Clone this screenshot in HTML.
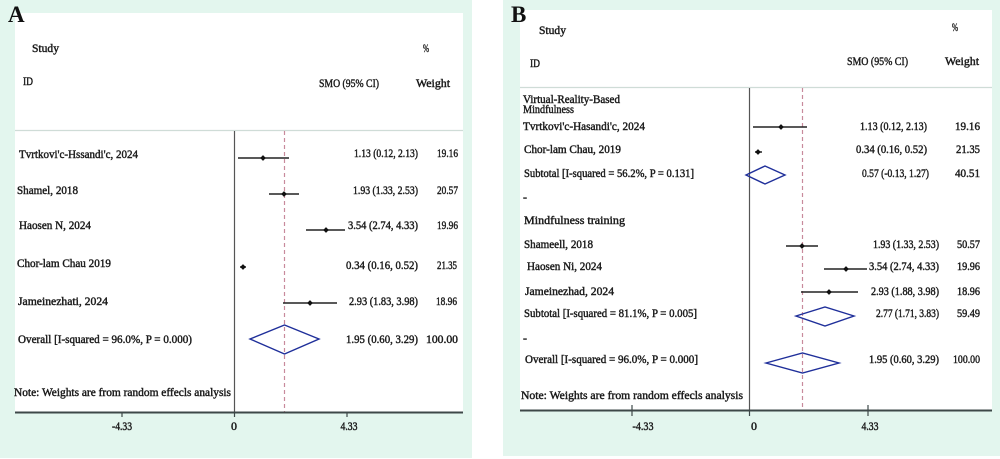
<!DOCTYPE html>
<html>
<head>
<meta charset="utf-8">
<style>
html,body{margin:0;padding:0;background:#fff;}
svg{display:block;}
text{font-family:"Liberation Serif",serif;fill:#1a1a1a;font-size:12px;stroke:#1a1a1a;stroke-width:0.45px;}
.v{text-anchor:end;}
.big{font-size:23px;font-weight:bold;fill:#111;stroke:none;}
</style>
</head>
<body>
<svg width="1000" height="459" viewBox="0 0 1000 459" xmlns="http://www.w3.org/2000/svg">
  <rect x="0" y="0" width="1000" height="459" fill="#ffffff"/>
  <rect x="0" y="0" width="472" height="458" fill="#e3f6ee"/>
  <rect x="503" y="0" width="497" height="456" fill="#e3f6ee"/>
  <rect x="15" y="13" width="448" height="399" fill="#ffffff"/>
  <rect x="520" y="10" width="472" height="400" fill="#ffffff"/>

  <!-- ================= PANEL A ================= -->
  <text class="big" x="8" y="22">A</text>
  <text x="32" y="52" textLength="27" lengthAdjust="spacingAndGlyphs">Study</text>
  <text x="423" y="52" textLength="6" lengthAdjust="spacingAndGlyphs">%</text>
  <text x="23" y="85" textLength="10" lengthAdjust="spacingAndGlyphs">ID</text>
  <text x="319" y="87" textLength="60" lengthAdjust="spacingAndGlyphs">SMO (95% CI)</text>
  <text x="416" y="87" textLength="34" lengthAdjust="spacingAndGlyphs">Weight</text>

  <line x1="15" y1="130.5" x2="463" y2="130.5" stroke="#cfdcd7" stroke-width="1.2"/>
  <line x1="234.5" y1="131" x2="234.5" y2="412" stroke="#555" stroke-width="1.2"/>
  <line x1="284.5" y1="131" x2="284.5" y2="412" stroke="#c88a9c" stroke-width="1.2" stroke-dasharray="4,3"/>

  <text x="19" y="158" textLength="119" lengthAdjust="spacingAndGlyphs">Tvrtkovi'c-Hssandi'c, 2024</text>
  <line x1="238" y1="158" x2="289" y2="158" stroke="#222" stroke-width="1.5"/>
  <rect x="261" y="156" width="4" height="4" fill="#111" transform="rotate(45 263 158)"/>
  <text class="v" x="418" y="157" textLength="64" lengthAdjust="spacingAndGlyphs">1.13 (0.12, 2.13)</text>
  <text class="v" x="458" y="157" textLength="21" lengthAdjust="spacingAndGlyphs">19.16</text>

  <text x="17" y="194" textLength="61" lengthAdjust="spacingAndGlyphs">Shamel, 2018</text>
  <line x1="269" y1="194" x2="299" y2="194" stroke="#222" stroke-width="1.5"/>
  <rect x="282" y="192" width="4" height="4" fill="#111" transform="rotate(45 284 194)"/>
  <text class="v" x="418" y="194" textLength="65" lengthAdjust="spacingAndGlyphs">1.93 (1.33, 2.53)</text>
  <text class="v" x="458" y="194" textLength="21" lengthAdjust="spacingAndGlyphs">20.57</text>

  <text x="19" y="229" textLength="72" lengthAdjust="spacingAndGlyphs">Haosen N, 2024</text>
  <line x1="306" y1="230" x2="345" y2="230" stroke="#222" stroke-width="1.5"/>
  <rect x="324" y="228" width="4" height="4" fill="#111" transform="rotate(45 326 230)"/>
  <text class="v" x="418" y="229" textLength="70" lengthAdjust="spacingAndGlyphs">3.54 (2.74, 4.33)</text>
  <text class="v" x="458" y="229" textLength="21" lengthAdjust="spacingAndGlyphs">19.96</text>

  <text x="17" y="267" textLength="94" lengthAdjust="spacingAndGlyphs">Chor-lam Chau 2019</text>
  <line x1="240" y1="267" x2="246" y2="267" stroke="#222" stroke-width="1.5"/>
  <rect x="241" y="265" width="4" height="4" fill="#111" transform="rotate(45 243 267)"/>
  <text class="v" x="418" y="269" textLength="72" lengthAdjust="spacingAndGlyphs">0.34 (0.16, 0.52)</text>
  <text class="v" x="457" y="269" textLength="20" lengthAdjust="spacingAndGlyphs">21.35</text>

  <text x="18" y="305" textLength="90" lengthAdjust="spacingAndGlyphs">Jameinezhati, 2024</text>
  <line x1="283" y1="303" x2="337" y2="303" stroke="#222" stroke-width="1.5"/>
  <rect x="308" y="301" width="4" height="4" fill="#111" transform="rotate(45 310 303)"/>
  <text class="v" x="418" y="305" textLength="69" lengthAdjust="spacingAndGlyphs">2.93 (1.83, 3.98)</text>
  <text class="v" x="457" y="305" textLength="21" lengthAdjust="spacingAndGlyphs">18.96</text>

  <text x="18" y="343" textLength="174" lengthAdjust="spacingAndGlyphs">Overall [I-squared = 96.0%, P = 0.000)</text>
  <polygon points="250,339 284.5,325 319,339 284.5,354" fill="none" stroke="#1f2f9a" stroke-width="1.4"/>
  <text class="v" x="418" y="343" textLength="72" lengthAdjust="spacingAndGlyphs">1.95 (0.60, 3.29)</text>
  <text class="v" x="458" y="343" textLength="32" lengthAdjust="spacingAndGlyphs">100.00</text>

  <text x="14" y="396" textLength="217" lengthAdjust="spacingAndGlyphs">Note: Weights are from random effecls analysis</text>

  <line x1="15" y1="412.5" x2="463" y2="412.5" stroke="#3d4848" stroke-width="2"/>
  <line x1="122" y1="412" x2="122" y2="417" stroke="#3d4848" stroke-width="1.2"/>
  <line x1="234.5" y1="412" x2="234.5" y2="417" stroke="#3d4848" stroke-width="1.2"/>
  <line x1="347" y1="412" x2="347" y2="417" stroke="#3d4848" stroke-width="1.2"/>
  <text x="122" y="430" text-anchor="middle" textLength="20" lengthAdjust="spacingAndGlyphs">-4.33</text>
  <text x="234" y="430" text-anchor="middle">0</text>
  <text x="349" y="430" text-anchor="middle" textLength="17" lengthAdjust="spacingAndGlyphs">4.33</text>

  <!-- ================= PANEL B ================= -->
  <text class="big" x="511" y="22">B</text>
  <text x="539" y="34" textLength="27" lengthAdjust="spacingAndGlyphs">Study</text>
  <text x="952" y="31" textLength="6" lengthAdjust="spacingAndGlyphs">%</text>
  <text x="530" y="67" textLength="10" lengthAdjust="spacingAndGlyphs">ID</text>
  <text x="847" y="65" textLength="61" lengthAdjust="spacingAndGlyphs">SMO (95% CI)</text>
  <text x="945" y="65" textLength="34" lengthAdjust="spacingAndGlyphs">Weight</text>

  <line x1="520" y1="87.5" x2="992" y2="87.5" stroke="#cfdcd7" stroke-width="1.2"/>
  <line x1="749.5" y1="88" x2="749.5" y2="410" stroke="#555" stroke-width="1.2"/>
  <line x1="802.5" y1="88" x2="802.5" y2="410" stroke="#c88a9c" stroke-width="1.2" stroke-dasharray="4,3"/>

  <text x="523" y="103" textLength="97" lengthAdjust="spacingAndGlyphs">Virtual-Reality-Based</text>
  <text x="523" y="113" textLength="51" lengthAdjust="spacingAndGlyphs">Mindfulness</text>

  <text x="523" y="130" textLength="122" lengthAdjust="spacingAndGlyphs">Tvrtkovi'c-Hasandi'c, 2024</text>
  <line x1="753" y1="127" x2="807" y2="127" stroke="#222" stroke-width="1.5"/>
  <rect x="779" y="125" width="4" height="4" fill="#111" transform="rotate(45 781 127)"/>
  <text class="v" x="927" y="130" textLength="67" lengthAdjust="spacingAndGlyphs">1.13 (0.12, 2.13)</text>
  <text class="v" x="980" y="130" textLength="25" lengthAdjust="spacingAndGlyphs">19.16</text>

  <text x="524" y="153" textLength="97" lengthAdjust="spacingAndGlyphs">Chor-lam Chau, 2019</text>
  <line x1="755" y1="152" x2="762" y2="152" stroke="#222" stroke-width="1.5"/>
  <rect x="756" y="150" width="4" height="4" fill="#111" transform="rotate(45 758 152)"/>
  <text class="v" x="927" y="153" textLength="71" lengthAdjust="spacingAndGlyphs">0.34 (0.16, 0.52)</text>
  <text class="v" x="980" y="153" textLength="24" lengthAdjust="spacingAndGlyphs">21.35</text>

  <text x="524" y="177" textLength="170" lengthAdjust="spacingAndGlyphs">Subtotal [I-squared = 56.2%, P = 0.131]</text>
  <polygon points="746,175 765,166 785,175 765,184" fill="none" stroke="#1f2f9a" stroke-width="1.4"/>
  <text class="v" x="929" y="177" textLength="67" lengthAdjust="spacingAndGlyphs">0.57 (-0.13, 1.27)</text>
  <text class="v" x="980" y="177" textLength="25" lengthAdjust="spacingAndGlyphs">40.51</text>

  <text x="523" y="201">-</text>
  <text x="524" y="224" textLength="101" lengthAdjust="spacingAndGlyphs">Mindfulness training</text>

  <text x="524" y="248" textLength="69" lengthAdjust="spacingAndGlyphs">Shameell, 2018</text>
  <line x1="786" y1="246" x2="818" y2="246" stroke="#222" stroke-width="1.5"/>
  <rect x="800" y="244" width="4" height="4" fill="#111" transform="rotate(45 802 246)"/>
  <text class="v" x="939" y="248" textLength="66" lengthAdjust="spacingAndGlyphs">1.93 (1.33, 2.53)</text>
  <text class="v" x="980" y="248" textLength="23" lengthAdjust="spacingAndGlyphs">50.57</text>

  <text x="527" y="270" textLength="75" lengthAdjust="spacingAndGlyphs">Haosen Ni, 2024</text>
  <line x1="824" y1="269" x2="867" y2="269" stroke="#222" stroke-width="1.5"/>
  <rect x="844" y="267" width="4" height="4" fill="#111" transform="rotate(45 846 269)"/>
  <text class="v" x="939" y="270" textLength="70" lengthAdjust="spacingAndGlyphs">3.54 (2.74, 4.33)</text>
  <text class="v" x="980" y="270" textLength="23" lengthAdjust="spacingAndGlyphs">19.96</text>

  <text x="525" y="295" textLength="89" lengthAdjust="spacingAndGlyphs">Jameinezhad, 2024</text>
  <line x1="801" y1="292" x2="858" y2="292" stroke="#222" stroke-width="1.5"/>
  <rect x="827" y="290" width="4" height="4" fill="#111" transform="rotate(45 829 292)"/>
  <text class="v" x="939" y="295" textLength="68" lengthAdjust="spacingAndGlyphs">2.93 (1.88, 3.98)</text>
  <text class="v" x="980" y="295" textLength="23" lengthAdjust="spacingAndGlyphs">18.96</text>

  <text x="524" y="317" textLength="173" lengthAdjust="spacingAndGlyphs">Subtotal [I-squared = 81.1%, P = 0.005]</text>
  <polygon points="796,316 825,307 854,316 825,326" fill="none" stroke="#1f2f9a" stroke-width="1.4"/>
  <text class="v" x="939" y="317" textLength="63" lengthAdjust="spacingAndGlyphs">2.77 (1.71, 3.83)</text>
  <text class="v" x="980" y="317" textLength="23" lengthAdjust="spacingAndGlyphs">59.49</text>

  <text x="523" y="342">-</text>

  <text x="525" y="363" textLength="173" lengthAdjust="spacingAndGlyphs">Overall [I-squared = 96.0%, P = 0.000]</text>
  <polygon points="766,363 802.5,353 839,363 802.5,373" fill="none" stroke="#1f2f9a" stroke-width="1.4"/>
  <text class="v" x="939" y="363" textLength="70" lengthAdjust="spacingAndGlyphs">1.95 (0.60, 3.29)</text>
  <text class="v" x="980" y="363" textLength="27" lengthAdjust="spacingAndGlyphs">100.00</text>

  <text x="521" y="399" textLength="222" lengthAdjust="spacingAndGlyphs">Note: Weights are from random effecls analysis</text>

  <line x1="520" y1="410.5" x2="992" y2="410.5" stroke="#3d4848" stroke-width="2"/>
  <line x1="632" y1="405" x2="632" y2="416" stroke="#3d4848" stroke-width="1.2"/>
  <line x1="749.5" y1="410" x2="749.5" y2="416" stroke="#3d4848" stroke-width="1.2"/>
  <line x1="868" y1="405" x2="868" y2="416" stroke="#3d4848" stroke-width="1.2"/>
  <text x="643" y="430" text-anchor="middle" textLength="21" lengthAdjust="spacingAndGlyphs">-4.33</text>
  <text x="754" y="430" text-anchor="middle">0</text>
  <text x="870" y="430" text-anchor="middle" textLength="17" lengthAdjust="spacingAndGlyphs">4.33</text>
</svg>
</body>
</html>
